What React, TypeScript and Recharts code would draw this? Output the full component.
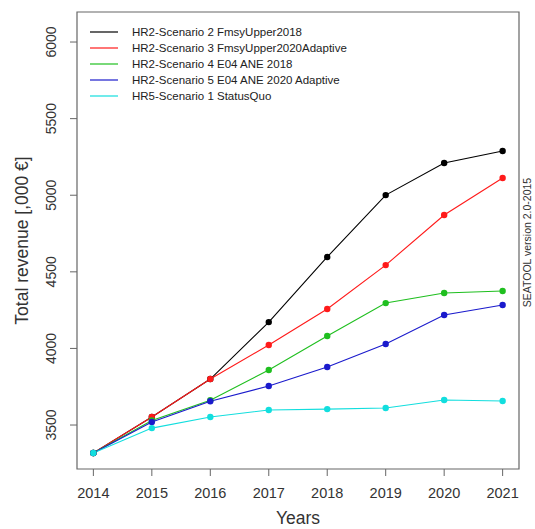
import React from 'react';
import { LineChart, Line, XAxis, YAxis, ReferenceArea, Legend } from 'recharts';

// Total revenue (thousand euro) per scenario and year
const years = [2014, 2015, 2016, 2017, 2018, 2019, 2020, 2021];
const fmsyUpper2018 = [3317, 3552, 3800, 4172, 4597, 5001, 5210, 5289];
const fmsyUpper2020Adaptive = [3317, 3552, 3800, 4022, 4257, 4544, 4871, 5112];
const e04Ane2018 = [3317, 3530, 3662, 3859, 4081, 4296, 4362, 4375];
const e04Ane2020Adaptive = [3317, 3520, 3655, 3755, 3879, 4029, 4218, 4283];
const statusQuo = [3317, 3480, 3552, 3598, 3604, 3611, 3663, 3657];

const yTicks = [3500, 4000, 4500, 5000, 5500, 6000];
const xDomain = [2013.72, 2021.28];
const yDomain = [3213, 6196];

const series = [
  { key: 's2', name: 'HR2-Scenario 2 FmsyUpper2018', color: '#000000', values: fmsyUpper2018 },
  { key: 's3', name: 'HR2-Scenario 3 FmsyUpper2020Adaptive', color: '#ff1a1a', values: fmsyUpper2020Adaptive },
  { key: 's4', name: 'HR2-Scenario 4 E04 ANE 2018', color: '#1fbf1f', values: e04Ane2018 },
  { key: 's5', name: 'HR2-Scenario 5 E04 ANE 2020 Adaptive', color: '#1a1acc', values: e04Ane2020Adaptive },
  { key: 'sq', name: 'HR5-Scenario 1 StatusQuo', color: '#12dede', values: statusQuo },
];

const data = years.map((year, i) => {
  const row: Record<string, number> = { year };
  series.forEach(s => { row[s.key] = s.values[i]; });
  return row;
});

const FONT = '"Liberation Sans", Arial, sans-serif';
const TEXT = '#333333';
const FRAME = '#666666';

const XTick = ({ x, y, payload }: any) => (
  <text x={x} y={y + 20} textAnchor="middle" fontSize={14.5} fontFamily={FONT} fill={TEXT}>
    {payload.value}
  </text>
);

const YTick = ({ x, y, payload }: any) => (
  <text
    x={0}
    y={0}
    dy="0.35em"
    transform={`translate(${x - 17},${y}) rotate(-90)`}
    textAnchor="middle"
    fontSize={14}
    fontFamily={FONT}
    fill={TEXT}
  >
    {payload.value}
  </text>
);

const ScenarioLegend = () => (
  <div style={{ fontFamily: FONT, fontSize: 11.5, color: '#222' }}>
    {series.map(s => (
      <div key={s.key} style={{ display: 'flex', alignItems: 'center', height: 16 }}>
        <svg width={30} height={16} style={{ marginRight: 14 }}>
          <line x1={2} x2={30} y1={8} y2={8} stroke={s.color} strokeWidth={1.2} />
        </svg>
        <span style={{ whiteSpace: 'nowrap' }}>{s.name}</span>
      </div>
    ))}
  </div>
);

export default function App() {
  return (
    <div style={{ position: 'absolute', left: 0, top: 0, background: '#fff' }}>
      <LineChart width={535} height={529} data={data} margin={{ top: 12, right: 0, bottom: 0, left: 0 }}>
        <XAxis
          type="number"
          dataKey="year"
          domain={xDomain}
          ticks={years}
          allowDataOverflow
          height={60}
          tick={<XTick />}
          tickSize={7}
          tickLine={{ stroke: FRAME }}
          axisLine={false}
          label={{
            content: ({ viewBox }: any) => (
              <text
                x={viewBox.x + viewBox.width / 2}
                y={viewBox.y + 55}
                textAnchor="middle"
                fontSize={17.5}
                fontFamily={FONT}
                fill={TEXT}
              >
                Years
              </text>
            ),
          }}
        />
        <YAxis
          type="number"
          domain={yDomain}
          ticks={yTicks}
          allowDataOverflow
          width={77}
          tick={<YTick />}
          tickSize={7}
          tickLine={{ stroke: FRAME }}
          axisLine={false}
          label={{
            content: ({ viewBox }: any) => {
              const cy = viewBox.y + viewBox.height / 2;
              return (
                <text
                  x={0}
                  y={0}
                  dy="0.35em"
                  transform={`translate(22,${cy}) rotate(-90)`}
                  textAnchor="middle"
                  fontSize={17.5}
                  fontFamily={FONT}
                  fill={TEXT}
                >
                  Total revenue [,000 €]
                </text>
              );
            },
          }}
        />
        <YAxis
          yAxisId="note"
          orientation="right"
          width={16}
          tick={false}
          tickLine={false}
          axisLine={false}
          label={{
            content: ({ viewBox }: any) => {
              const cy = viewBox.y + viewBox.height / 2 + 2;
              return (
                <text
                  x={0}
                  y={0}
                  dy="0.35em"
                  transform={`translate(${viewBox.x + 8},${cy}) rotate(-90)`}
                  textAnchor="middle"
                  fontSize={10.5}
                  fontFamily={FONT}
                  fill={TEXT}
                >
                  SEATOOL version 2.0-2015
                </text>
              );
            },
          }}
        />
        <ReferenceArea
          x1={xDomain[0]}
          x2={xDomain[1]}
          y1={yDomain[0]}
          y2={yDomain[1]}
          fill="none"
          stroke={FRAME}
          strokeWidth={1.2}
          ifOverflow="visible"
        />
        {/* vertical + centered layout keeps the legend from reserving plot space */}
        <Legend
          layout="vertical"
          align="center"
          verticalAlign="middle"
          content={<ScenarioLegend />}
          wrapperStyle={{ position: 'absolute', left: 88, top: 24, width: 'auto' }}
        />
        {series.map(s => (
          <Line
            key={s.key}
            type="linear"
            dataKey={s.key}
            name={s.name}
            stroke={s.color}
            strokeWidth={1.1}
            dot={{ r: 3.2, fill: s.color, stroke: s.color, strokeWidth: 0 }}
            activeDot={false}
            isAnimationActive={false}
          />
        ))}
      </LineChart>
    </div>
  );
}
